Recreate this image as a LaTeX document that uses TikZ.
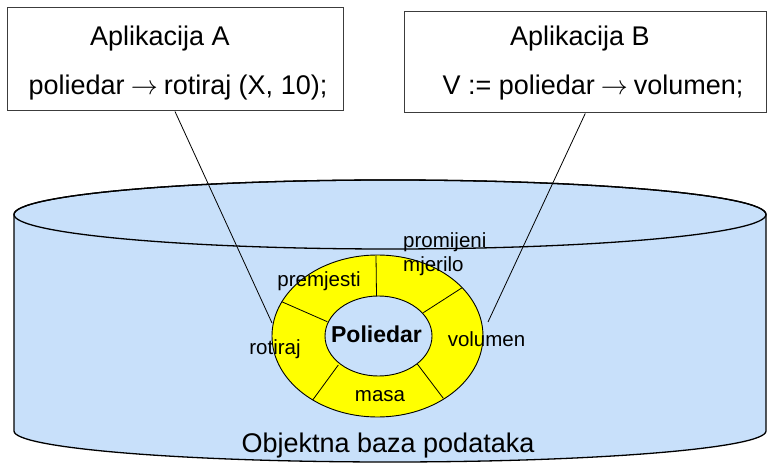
\documentclass[tikz,border=0pt]{standalone}
\usepackage{graphicx}
\usepackage{fontspec}
\setmainfont{Liberation Sans}
\definecolor{dbblue}{RGB}{200,224,250}
\definecolor{ringyellow}{RGB}{255,255,0}
\definecolor{boxline}{RGB}{60,60,60}
\newcommand{\longarr}{\hspace{6pt}\resizebox{27pt}{!}{$\rightarrow$}\hspace{6pt}}
\tikzset{
  appbox/.style={draw=boxline, line width=1pt, fill=white, inner sep=0pt},
  bigtext/.style={anchor=base, inner sep=0pt, font=\fontsize{27}{32}\selectfont},
  ringtext/.style={anchor=base, inner sep=0pt, font=\fontsize{20.5}{24}\selectfont},
  coretext/.style={anchor=base, inner sep=0pt, font=\fontsize{23}{27}\selectfont\bfseries},
  pointer/.style={draw=black, line width=0.8pt},
  divider/.style={draw=black, line width=0.8pt},
}
\begin{document}
\begin{tikzpicture}[x=1pt,y=1pt]
\useasboundingbox (0,0) rectangle (768,463);
% cylinder (database)
\path[fill=dbblue, draw=black, line width=1.3pt]
  (14,248.5) -- (14,32) arc[start angle=180, end angle=360, x radius=376, y radius=31]
  -- (766,248.5) arc[start angle=0, end angle=180, x radius=376, y radius=34.5] -- cycle;
\draw[line width=1.3pt] (390,248.5) ellipse[x radius=376, y radius=34.5];
% ring
\path[fill=ringyellow, even odd rule, draw=black, line width=0.9pt]
  (377.5,127) ellipse[x radius=105.5, y radius=81]
  (378.5,127) ellipse[x radius=53.5, y radius=40];
\draw[divider] (376,207.5) -- (376.5,167);
\draw[divider] (461.7,175) -- (423.3,150.3);
\draw[divider] (281.7,161.3) -- (327.3,141.3);
\draw[divider] (338.3,98) -- (312.7,63);
\draw[divider] (417.3,99) -- (443.3,64.7);
% ring labels
\node[coretext] (core) at (376.5,120) {Poliedar};
\node[ringtext] (premjesti) at (319,176) {premjesti};
\node[ringtext, anchor=base west] (promijeni) at (403,215) {promijeni};
\node[ringtext, anchor=base west] (mjerilo) at (403,191) {mjerilo};
\node[ringtext] (rotiraj) at (275,108) {rotiraj};
\node[ringtext] (volumen) at (486.5,116) {volumen};
\node[ringtext] (masa) at (380,61) {masa};
\node[bigtext] (dbname) at (388,11) {Objektna baza podataka};
% application boxes
\node[appbox, minimum width=336pt, minimum height=103pt] (A) at (175,403.5) {};
\node[appbox, minimum width=362.5pt, minimum height=101pt] (B) at (585.25,400.5) {};
\node[bigtext] (A1) at (160,417) {Aplikacija A};
\node[bigtext] (A2) at (178,368.5) {poliedar\longarr rotiraj (X, 10);};
\node[bigtext] (B1) at (580,417) {Aplikacija B};
\node[bigtext] (B2) at (593,368.5) {V := poliedar\longarr volumen;};
% pointers
\coordinate (endA) at (272,140);
\coordinate (endB) at (488,141);
\draw[pointer] (A.south) -- (endA);
\draw[pointer] (B.south) -- (endB);
\end{tikzpicture}
\end{document}
